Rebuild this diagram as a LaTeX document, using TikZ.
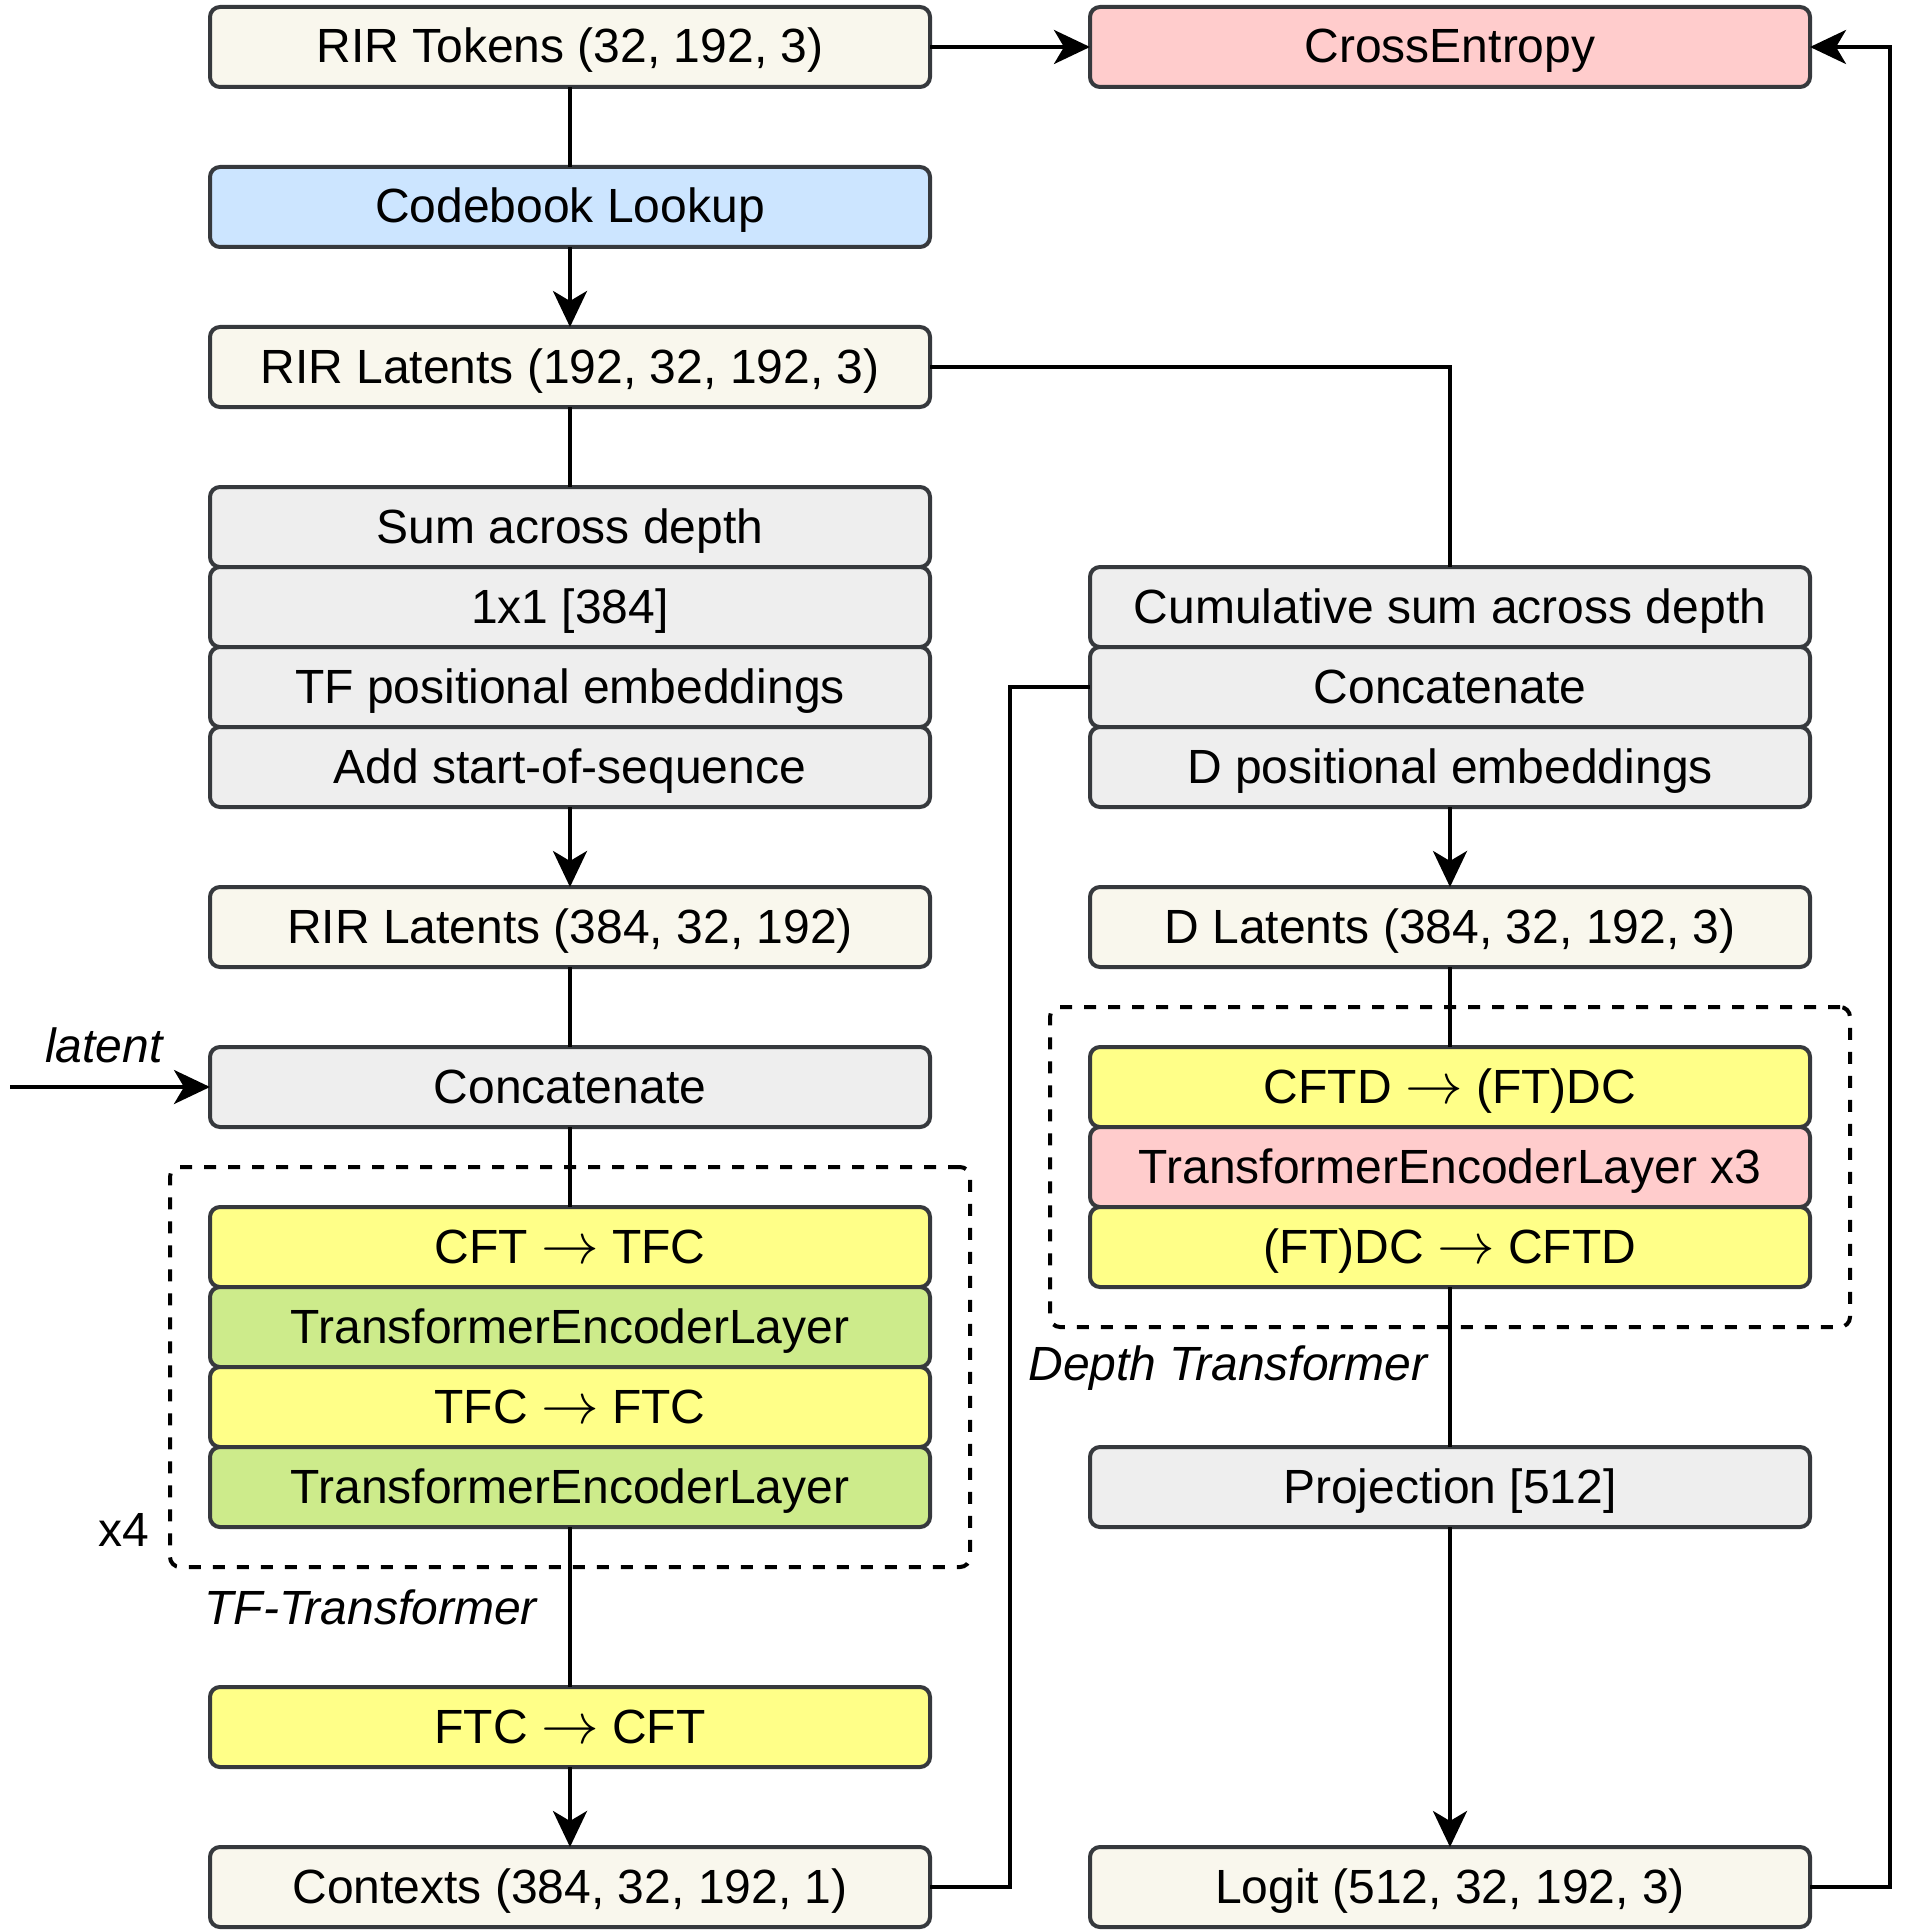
\RequirePackage{fix-cm}
\documentclass[tikz,border=0pt]{standalone}
\usepackage{fontspec}
\setmainfont{Liberation Sans}
\usetikzlibrary{positioning, arrows.meta, calc, fit}

\definecolor{tokfill}{HTML}{F9F7ED}
\definecolor{cbfill}{HTML}{CCE5FF}
\definecolor{lossfill}{HTML}{FFCCCC}
\definecolor{opfill}{HTML}{EEEEEE}
\definecolor{permfill}{HTML}{FFFF88}
\definecolor{tflayer}{HTML}{CDEB8B}
\definecolor{edgecol}{HTML}{36393D}

\newcommand{\pto}{\scalebox{1.2}{$\rightarrow$}}

\begin{document}
\begin{tikzpicture}[
    block/.style={
        rectangle,
        draw=edgecol,
        line width=2pt,
        rounded corners=5pt,
        minimum width=360pt,
        minimum height=40pt,
        outer sep=0pt,
        inner sep=0pt,
        text height=20pt,
        text depth=4pt,
        font=\fontsize{24}{28}\selectfont
    },
    tensor/.style={block, fill=tokfill},
    op/.style={block, fill=opfill},
    perm/.style={block, fill=permfill},
    enc/.style={block, fill=tflayer},
    line/.style={
        line width=1.9pt,
        black
    },
    ptr/.style={
        line,
        -{Stealth[length=18pt, width=17pt, inset=5pt]}
    },
    group/.style={
        draw,
        dash pattern=on 6pt off 6pt,
        line width=2pt,
        rounded corners=5pt,
        inner sep=20pt
    },
    lbl/.style={font=\fontsize{24}{28}\selectfont, inner sep=2pt},
    tag/.style={lbl, font=\fontsize{24}{28}\selectfont\itshape}
]
    \useasboundingbox (0,0) rectangle (952.5pt,-965.5pt);

    % Left column
    \node[tensor] (tokens) at (285pt,-23.5pt) {RIR Tokens (32, 192, 3)};
    \node[block, fill=cbfill, below=40pt of tokens] (lookup) {Codebook Lookup};
    \node[tensor, below=40pt of lookup] (latA) {RIR Latents (192, 32, 192, 3)};
    \node[op, below=40pt of latA] (sumd) {Sum across depth};
    \node[op, below=0pt of sumd] (proj1) {1x1 [384]};
    \node[op, below=0pt of proj1] (tfpos) {TF positional embeddings};
    \node[op, below=0pt of tfpos] (sos) {Add start-of-sequence};
    \node[tensor, below=40pt of sos] (latB) {RIR Latents (384, 32, 192)};
    \node[op, below=40pt of latB] (catL) {Concatenate};

    % TF-Transformer stack
    \node[perm, below=40pt of catL] (cft) {CFT \pto{} TFC};
    \node[enc, below=0pt of cft] (encA) {TransformerEncoderLayer};
    \node[perm, below=0pt of encA] (tfc) {TFC \pto{} FTC};
    \node[enc, below=0pt of tfc] (encB) {TransformerEncoderLayer};

    \node[perm, below=80pt of encB] (ftc) {FTC \pto{} CFT};
    \node[tensor, below=40pt of ftc] (ctx) {Contexts (384, 32, 192, 1)};

    % Right column
    \node[block, fill=lossfill, right=80pt of tokens] (xent) {CrossEntropy};
    \node[op, right=80pt of proj1] (cumsum) {Cumulative sum across depth};
    \node[op, below=0pt of cumsum] (catR) {Concatenate};
    \node[op, below=0pt of catR] (dpos) {D positional embeddings};
    \node[tensor, right=80pt of latB] (latD) {D Latents (384, 32, 192, 3)};

    % Depth Transformer stack
    \node[perm, right=80pt of catL] (cftd) {CFTD \pto{} (FT)DC};
    \node[block, fill=lossfill, below=0pt of cftd] (encD) {TransformerEncoderLayer x3};
    \node[perm, below=0pt of encD] (ftdc) {(FT)DC \pto{} CFTD};

    \node[op, right=80pt of encB] (outproj) {Projection [512]};
    \node[tensor, right=80pt of ctx] (logit) {Logit (512, 32, 192, 3)};

    % Dashed groups
    \node[group, fit=(cft)(encB)] (tfgroup) {};
    \node[group, fit=(cftd)(ftdc)] (dgroup) {};
    \node[lbl, left=7pt of tfgroup.south west, yshift=19.5pt] (reps) {x4};
    \node[tag, below right=8pt and 16pt of tfgroup.south west] (tflabel) {TF-Transformer};
    \node[tag, anchor=north west] (dlabel) at ($(dgroup.south west)+(-12pt,-6pt)$) {Depth Transformer};

    % Latent input
    \coordinate[left=100pt of catL.west] (latin);

    % Connectors
    \draw[line] (tokens) -- (lookup);
    \draw[ptr] (lookup) -- (latA);
    \draw[line] (latA) -- (sumd);
    \draw[line] (latA.east) -| (cumsum.north);
    \draw[ptr] (sos) -- (latB);
    \draw[line] (latB) -- (catL);
    \draw[ptr] (latin) -- node[tag, above=9pt, xshift=-3pt] {latent} (catL.west);
    \draw[line] (catL) -- (cft);
    \draw[line] (encB) -- (ftc);
    \draw[ptr] (ftc) -- (ctx);
    \draw[line] (ctx.east) -- ++(40pt,0) |- (catR.west);
    \draw[ptr] (tokens) -- (xent);
    \draw[ptr] (dpos) -- (latD);
    \draw[line] (latD) -- (cftd);
    \draw[line] (ftdc) -- (outproj);
    \draw[ptr] (outproj) -- (logit);
    \draw[ptr] (logit.east) -- ++(40pt,0) |- (xent.east);

\end{tikzpicture}
\end{document}
